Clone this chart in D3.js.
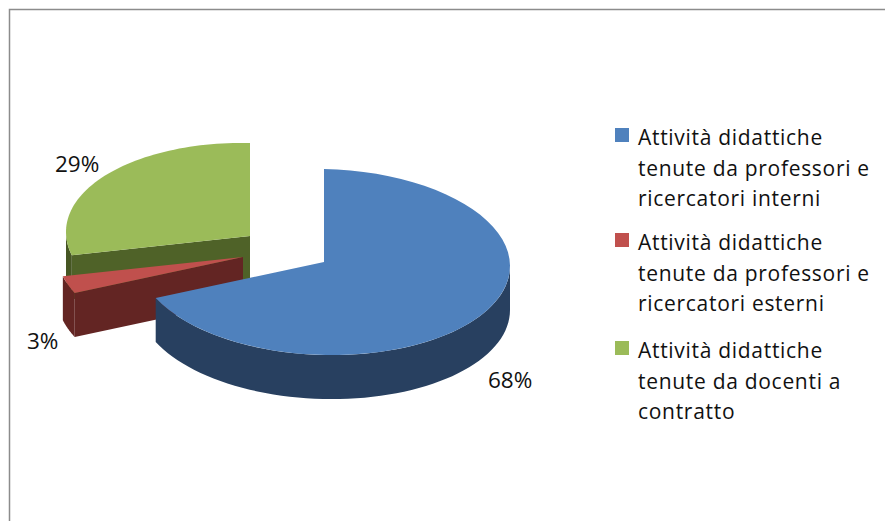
<!DOCTYPE html>
<html>
<head>
<meta charset="utf-8">
<script src="https://d3js.org/d3.v7.min.js"></script>
<style>
  html, body { margin: 0; padding: 0; background: #fff; }
  svg { display: block; }
  text { font-family: "Open Sans", sans-serif; fill: #111; }
</style>
</head>
<body>
<div id="chart"></div>
<script>
var categories = [
  ["Attività didattiche", "tenute da professori e", "ricercatori interni"],
  ["Attività didattiche", "tenute da professori e", "ricercatori esterni"],
  ["Attività didattiche", "tenute da docenti a", "contratto"]
];
var values = [68, 3, 29];
var labels = ["68%", "3%", "29%"];

var topColors = ["#4f81bd", "#c0504d", "#9bbb59"];
var sideColors = ["#284060", "#632523", "#4f6228"];

var width = 885, height = 521;
var ry = 93, depth = 44, skew = 4;

// where each exploded slice has its apex, its width, and where its label sits
var apex = [[324, 262], [243, 257], [250, 236]];
var radiusX = [186, 186, 184];
var labelPos = [[488, 388], [27, 349], [55, 172]];
var legendY = [145, 250, 358];

var svg = d3.select("#chart").append("svg")
  .attr("width", width)
  .attr("height", height);

// frame, only top and left show in the crop
svg.append("path")
  .attr("d", "M9.5," + height + "V9.5H" + width)
  .attr("fill", "none")
  .attr("stroke", "#8c8c8c")
  .attr("stroke-width", 1.5);

var slices = d3.pie().sort(null)(values);

// flat pie angle -> tilted ellipse, the left side rides a bit higher than the right
function project(i, a, dy) {
  var c = apex[i];
  return [
    c[0] + radiusX[i] * Math.sin(a),
    c[1] - ry * Math.cos(a) + skew * Math.sin(a) + (dy || 0)
  ];
}

function arcPoints(i, a0, a1, dy) {
  return d3.range(0, 61).map(function(k) {
    return project(i, a0 + (a1 - a0) * k / 60, dy);
  });
}

var line = d3.line();

// back to front: green, red, blue
[2, 1, 0].forEach(function(i) {
  var s = slices[i], c = apex[i];

  // cut face on the slice start, when it faces the viewer
  if (i > 0) {
    var e = project(i, s.startAngle);
    svg.append("path")
      .attr("d", line([c, e, [e[0], e[1] + depth], [c[0], c[1] + depth]]) + "Z")
      .attr("fill", sideColors[i]);
  }

  // outer wall, only the front half of the ellipse
  var a0 = Math.max(s.startAngle, Math.PI / 2);
  var a1 = Math.min(s.endAngle, Math.PI * 1.5);
  if (a1 > a0) {
    var pts = arcPoints(i, a0, a1, 0)
      .concat(arcPoints(i, a1, a0, depth));
    svg.append("path")
      .attr("d", line(pts) + "Z")
      .attr("fill", d3.color(sideColors[i]).darker(i == 2 ? 0.35 : 0));
  }

  // top
  svg.append("path")
    .attr("d", line([c].concat(arcPoints(i, s.startAngle, s.endAngle, 0))) + "Z")
    .attr("fill", topColors[i]);
});

labels.forEach(function(t, i) {
  svg.append("text")
    .attr("x", labelPos[i][0])
    .attr("y", labelPos[i][1])
    .attr("font-size", 22.5)
    .text(t);
});

categories.forEach(function(lines, i) {
  svg.append("rect")
    .attr("x", 615)
    .attr("y", legendY[i] - 17)
    .attr("width", 14)
    .attr("height", 14)
    .attr("fill", topColors[i]);

  lines.forEach(function(t, j) {
    svg.append("text")
      .attr("x", 638)
      .attr("y", legendY[i] + j * 30.5)
      .attr("font-size", 21)
      .attr("letter-spacing", 0.7)
      .text(t);
  });
});
</script>
</body>
</html>
